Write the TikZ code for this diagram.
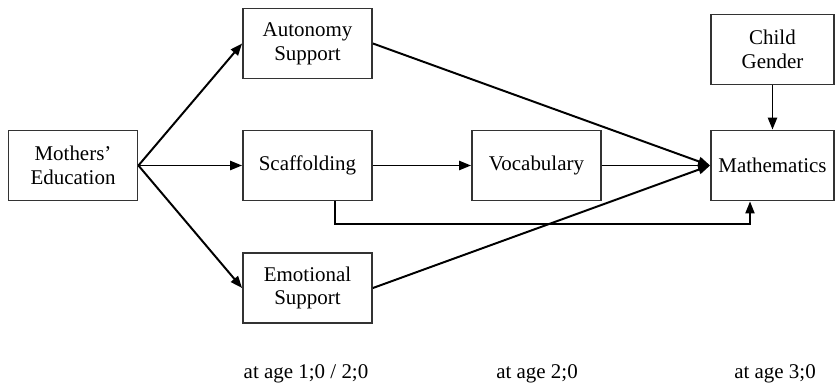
\documentclass[tikz,border=0pt]{standalone}
\usepackage{fontspec}
\setmainfont{Liberation Serif}
\usetikzlibrary{arrows.meta}
\begin{document}
\begin{tikzpicture}[x=0.025cm,y=-0.025cm,draw=black]
 	\def \rowtop{43.5}
 	\def \rowmid{165.5}
 	\def \rowbot{288}
 	\def \rowage{374}
 	\tikzstyle{v-node}=[rectangle,draw=black!80,line width=1.3pt,inner sep=0pt,minimum width=3.225cm,minimum height=1.75cm,align=center,font=\fontsize{14.9}{17}\selectfont]
 	\tikzstyle{o-node}=[v-node,minimum width=3.075cm]
 	\tikzstyle{annot} = [font=\fontsize{14.9}{17}\selectfont]
 	\tikzstyle{path-arrow}=[line width=1.4pt,-{Triangle[length=8.5pt,width=6.5pt]}]
 	\useasboundingbox (0,0) rectangle (836,387);
 	\node[v-node] 	(mother)	at (73,\rowmid)		{Mothers’\\Education};
 	% mediators
 	\node[v-node] 	(auto)	at (307.5,\rowtop)		{Autonomy\\Support};
 	\node[v-node] 	(scaf)	at (307.5,\rowmid)		{Scaffolding};
 	\node[v-node] 	(emo)	at (307.5,\rowbot)		{Emotional\\Support};
 	\node[v-node] 	(voc)	at (536.5,\rowmid)		{Vocabulary};
 	% outcome
 	\node[o-node] 	(gender)	at (772.5,49.5)		{Child\\Gender};
 	\node[o-node] 	(math)	at (772.5,\rowmid)		{Mathematics};
 	% ages
 	\node[annot] (age1) at (306,\rowage) {at age 1;0 / 2;0};
 	\node[annot] (age2) at (537,\rowage) {at age 2;0};
 	\node[annot] (age3) at (775,\rowage) {at age 3;0};
 	\path[path-arrow]
 		(mother.east)	edge	(auto.west)
 		(mother.east)	edge	(scaf.west)
 		(mother.east)	edge	(emo.west)

 		(scaf.east)	edge	(voc.west)

 		(auto.east)	edge	(math.west)
 		(voc.east)	edge	(math.west)
 		(emo.east)	edge	(math.west)

 		(gender.south)	edge	(math.north);
 	\coordinate (fb-left) at (335,224);
 	\coordinate (fb-right) at (750,224);
 	\draw[path-arrow,line width=1pt] (scaf.south -| fb-left) -- (fb-left) -- (fb-right) -- (math.south -| fb-right);
\end{tikzpicture}
\end{document}
